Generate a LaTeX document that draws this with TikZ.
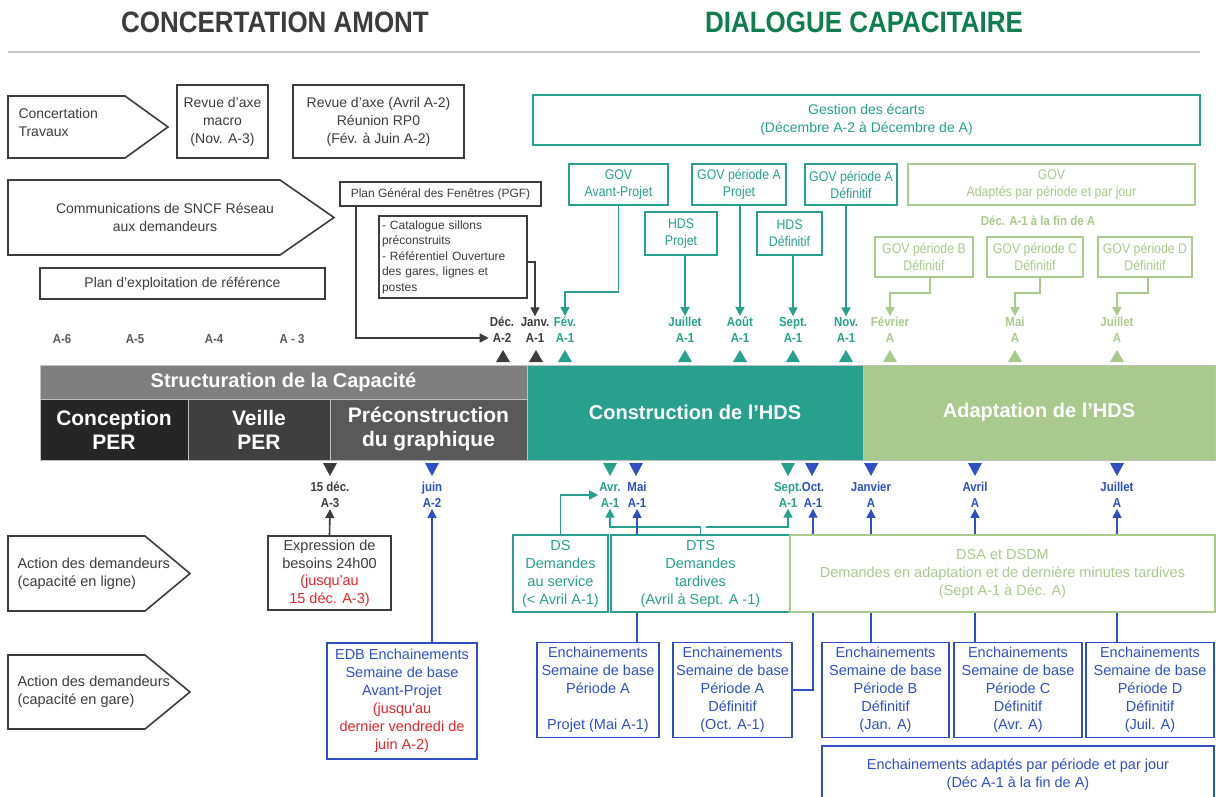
\documentclass[tikz,border=0pt]{standalone}
\usepackage{fontspec}
\setmainfont{Liberation Sans}
\newfontfamily\narrow[FakeStretch=0.88]{Liberation Sans}
\usetikzlibrary{arrows.meta}

\definecolor{inkgray}{HTML}{3C3C3C}
\definecolor{labgray}{HTML}{5A5A5A}
\definecolor{hdsteal}{HTML}{27A08D}
\definecolor{adaptgreen}{HTML}{A9C98D}
\definecolor{reqblue}{HTML}{2E50C4}
\definecolor{deadred}{HTML}{E5262B}
\definecolor{headgreen}{HTML}{0E7D50}
\definecolor{strucgray}{HTML}{7F7F7F}
\definecolor{concgray}{HTML}{262626}
\definecolor{veilgray}{HTML}{404040}
\definecolor{precgray}{HTML}{595959}
\newcommand{\rouge}[1]{\textcolor{deadred}{#1}}

\begin{document}
\begin{tikzpicture}[x=1pt,y=-1pt,>={Triangle[width=9pt,length=9pt]}]
  \tikzstyle{box}=[draw,line width=1.8pt,inner sep=2pt,align=center,font=\fontsize{14}{18}\selectfont]
  \tikzstyle{dbox}=[box,draw=inkgray,text=inkgray]
  \tikzstyle{tbox}=[box,draw=hdsteal,text=hdsteal,font=\narrow\fontsize{14}{17}\selectfont]
  \tikzstyle{gbox}=[tbox,draw=adaptgreen,text=adaptgreen]
  \tikzstyle{bbox}=[box,draw=reqblue,text=reqblue,font=\fontsize{14.5}{18}\selectfont]
  \tikzstyle{datelbl}=[align=center,inner sep=1pt,font=\narrow\bfseries\fontsize{13}{16}\selectfont]
  \tikzstyle{bartxt}=[text=white,align=center,font=\bfseries\fontsize{20}{24}\selectfont]
  \tikzstyle{dline}=[draw=inkgray,line width=1.6pt]
  \tikzstyle{tline}=[draw=hdsteal,line width=1.6pt]
  \tikzstyle{gline}=[draw=adaptgreen,line width=1.6pt]
  \tikzstyle{bline}=[draw=reqblue,line width=1.6pt]

  \useasboundingbox (0,0) rectangle (1216,796);
  \fill[white] (0,0) rectangle (1216,796);

  % titres
  \node[text=inkgray,font=\narrow\bfseries\fontsize{29.5}{32}\selectfont] (amont) at (275,22) {CONCERTATION AMONT};
  \node[text=headgreen,font=\narrow\bfseries\fontsize{29.5}{32}\selectfont] (dialogue) at (864,22) {DIALOGUE CAPACITAIRE};
  \draw[black!22,line width=1.2pt] (8,52) -- (1200,52);

  % fleches de gauche
  \draw[dline] (8,96) -- (125,96) -- (168,127) -- (125,158) -- (8,158) -- cycle;
  \node[anchor=west,align=left,text=inkgray,font=\fontsize{14}{18}\selectfont] (travaux) at (15,122) {Concertation\\Travaux};
  \draw[dline] (8,180) -- (280,180) -- (334,217.5) -- (280,255) -- (8,255) -- cycle;
  \node[align=center,text=inkgray,font=\fontsize{14}{18}\selectfont] (comm) at (165,217.5) {Communications de SNCF Réseau\\aux demandeurs};
  \draw[dline] (8,536) -- (145,536) -- (190,573.5) -- (145,611) -- (8,611) -- cycle;
  \node[anchor=west,align=left,text=inkgray,font=\fontsize{14.5}{18}\selectfont] (ligne) at (14,573.5) {Action des demandeurs\\(capacité en ligne)};
  \draw[dline] (8,655) -- (145,655) -- (190,692) -- (145,729) -- (8,729) -- cycle;
  \node[anchor=west,align=left,text=inkgray,font=\fontsize{14.5}{18}\selectfont] (gare) at (14,692) {Action des demandeurs\\(capacité en gare)};

  % concertation amont
  \node[dbox,minimum width=91,minimum height=73] (revmacro) at (222.5,121.5) {Revue d’axe\\macro\\(Nov. A-3)};
  \node[dbox,minimum width=171,minimum height=73] (revaxe) at (378.5,121.5) {Revue d’axe (Avril A-2)\\Réunion RP0\\(Fév. à Juin A-2)};
  \node[dbox,minimum width=201,minimum height=24,font=\fontsize{12}{15}\selectfont] (pgf) at (440.5,194) {Plan Général des Fenêtres (PGF)};
  \node[dbox,align=left,text width=142,inner sep=3pt,minimum height=82,font=\fontsize{12}{15.5}\selectfont] (cata) at (453,257) {- Catalogue sillons\\préconstruits\\- Référentiel Ouverture\\des gares, lignes et\\postes};
  \node[dbox,minimum width=285,minimum height=31] (per) at (182.5,283.5) {Plan d’exploitation de référence};

  % dialogue capacitaire
  \node[tbox,minimum width=667,minimum height=50,font=\fontsize{14}{18}\selectfont] (ecarts) at (866.5,120) {Gestion des écarts\\(Décembre A-2 à Décembre de A)};
  \node[tbox,minimum width=99,minimum height=41] (govap) at (618.5,184.5) {GOV\\Avant-Projet};
  \node[tbox,minimum width=94,minimum height=41] (govpa) at (739,184.5) {GOV période A\\Projet};
  \node[tbox,minimum width=92,minimum height=41] (govda) at (851,184.5) {GOV période A\\Définitif};
  \node[gbox,minimum width=287,minimum height=41] (govad) at (1051.5,184.5) {GOV\\Adaptés par période et par jour};
  \node[tbox,minimum width=72,minimum height=43] (hdsp) at (681,233.5) {HDS\\Projet};
  \node[tbox,minimum width=65,minimum height=43] (hdsd) at (789.5,233.5) {HDS\\Définitif};
  \node[datelbl,text=adaptgreen] (decfin) at (1038,221) {Déc. A-1 à la fin de A};
  \node[gbox,minimum width=98,minimum height=40] (govb) at (924,257) {GOV période B\\Définitif};
  \node[gbox,minimum width=96,minimum height=40] (govc) at (1035,257) {GOV période C\\Définitif};
  \node[gbox,minimum width=94,minimum height=40] (govd) at (1145,257) {GOV période D\\Définitif};

  % jalons du haut
  \node[datelbl,text=labgray] (a6) at (62,339) {A-6};
  \node[datelbl,text=labgray] (a5) at (135,339) {A-5};
  \node[datelbl,text=labgray] (a4) at (214,339) {A-4};
  \node[datelbl,text=labgray] (a3) at (292,339) {A - 3};
  \node[datelbl,text=inkgray] (decA2) at (502,330) {Déc.\\A-2};
  \node[datelbl,text=inkgray] (janv) at (535,330) {Janv.\\A-1};
  \node[datelbl,text=hdsteal] (fev) at (565,330) {Fév.\\A-1};
  \node[datelbl,text=hdsteal] (juil) at (685,330) {Juillet\\A-1};
  \node[datelbl,text=hdsteal] (aout) at (740,330) {Août\\A-1};
  \node[datelbl,text=hdsteal] (septh) at (793,330) {Sept.\\A-1};
  \node[datelbl,text=hdsteal] (nov) at (846,330) {Nov.\\A-1};
  \node[datelbl,text=adaptgreen] (fevA) at (890,330) {Février\\A};
  \node[datelbl,text=adaptgreen] (maiA) at (1015,330) {Mai\\A};
  \node[datelbl,text=adaptgreen] (juilA) at (1117,330) {Juillet\\A};

  \foreach \x/\c in {503/inkgray,536/inkgray,565/hdsteal,685/hdsteal,740/hdsteal,793/hdsteal,846/hdsteal,890/adaptgreen,1015/adaptgreen,1117/adaptgreen}
    \fill[\c] (\x-7,362) -- (\x+7,362) -- (\x,350) -- cycle;

  % bandeau
  \fill[strucgray] (40,365) rectangle (527,399);
  \fill[concgray] (40,399) rectangle (188,460);
  \fill[veilgray] (188,399) rectangle (330,460);
  \fill[precgray] (330,399) rectangle (527,460);
  \fill[hdsteal] (527,365) rectangle (863,460);
  \fill[adaptgreen] (863,365) rectangle (1215,460);
  \draw[black!25,line width=0.8pt] (40,365) rectangle (1215,460) (40,399) -- (527,399) (188,399) -- (188,460) (330,399) -- (330,460) (527,365) -- (527,460) (863,365) -- (863,460);
  \node[bartxt] (struc) at (283.5,382) {Structuration de la Capacité};
  \node[bartxt,font=\bfseries\fontsize{21}{24}\selectfont] (conc) at (114,429.5) {Conception\\PER};
  \node[bartxt,font=\bfseries\fontsize{21}{24}\selectfont] (veil) at (259,429.5) {Veille\\PER};
  \node[bartxt,font=\bfseries\fontsize{21}{24}\selectfont] (prec) at (428.5,429.5) {Préconstruction\\du graphique};
  \node[bartxt] (constr) at (695,412) {Construction de l’HDS};
  \node[bartxt] (adapt) at (1039,412) {Adaptation de l’HDS};

  % jalons du bas
  \foreach \x/\c in {330/inkgray,432/reqblue,610/hdsteal,636/reqblue,788/hdsteal,812/reqblue,871/reqblue,975/reqblue,1117/reqblue}
    \fill[\c] (\x-7,463) -- (\x+7,463) -- (\x,476) -- cycle;
  \node[datelbl,text=inkgray] (dec15) at (330,495) {15 déc.\\A-3};
  \node[datelbl,text=reqblue] (juin) at (432,495) {juin\\A-2};
  \node[datelbl,text=hdsteal] (avr) at (610,495) {Avr.\\A-1};
  \node[datelbl,text=reqblue] (mai) at (637,495) {Mai\\A-1};
  \node[datelbl,text=hdsteal] (sept) at (788,495) {Sept.\\A-1};
  \node[datelbl,text=reqblue] (oct) at (813,495) {Oct.\\A-1};
  \node[datelbl,text=reqblue] (janvA) at (871,495) {Janvier\\A};
  \node[datelbl,text=reqblue] (avrA) at (975,495) {Avril\\A};
  \node[datelbl,text=reqblue] (juilB) at (1117,495) {Juillet\\A};

  % demandes
  \node[dbox,minimum width=123,minimum height=74,font=\fontsize{14.5}{17.5}\selectfont] (expr) at (329.5,573) {Expression de\\besoins 24h00\\\rouge{(jusqu\textquotesingle au}\\\rouge{15 déc. A-3)}};
  \node[bbox,minimum width=150,minimum height=116] (edb) at (402,701) {EDB Enchainements\\Semaine de base\\Avant-Projet\\\rouge{(jusqu\textquotesingle au}\\\rouge{dernier vendredi de}\\\rouge{juin A-2)}};
  \node[tbox,minimum width=95,minimum height=77,font=\fontsize{14.5}{18}\selectfont] (ds) at (560.5,573.5) {DS\\Demandes\\au service\\(< Avril A-1)};
  \node[tbox,minimum width=179,minimum height=77,font=\fontsize{14.5}{18}\selectfont] (dts) at (700.5,573.5) {DTS\\Demandes\\tardives\\(Avril à Sept. A -1)};
  \node[gbox,minimum width=425,minimum height=77,font=\fontsize{14.5}{18}\selectfont] (dsa) at (1002.5,573.5) {DSA et DSDM\\Demandes en adaptation et de dernière minutes tardives\\(Sept A-1 à Déc. A)};
  \node[bbox,minimum width=122,minimum height=95] (encpa) at (598,690) {Enchainements\\Semaine de base\\Période A\\[18pt]Projet (Mai A-1)};
  \node[bbox,minimum width=119,minimum height=95] (encda) at (732.5,690) {Enchainements\\Semaine de base\\Période A\\Définitif\\(Oct. A-1)};
  \node[bbox,minimum width=127,minimum height=95] (encb) at (885.5,690) {Enchainements\\Semaine de base\\Période B\\Définitif\\(Jan. A)};
  \node[bbox,minimum width=128,minimum height=95] (encc) at (1018,690) {Enchainements\\Semaine de base\\Période C\\Définitif\\(Avr. A)};
  \node[bbox,minimum width=128,minimum height=95] (encd) at (1150,690) {Enchainements\\Semaine de base\\Période D\\Définitif\\(Juil. A)};
  \node[bbox,minimum width=392,minimum height=58] (encadapt) at (1018,775) {Enchainements adaptés par période et par jour\\(Déc A-1 à la fin de A)};

  % liaisons du haut
  \draw[dline,->] ([xshift=17pt]pgf.south west) |- ([yshift=-8pt]decA2.west);
  \draw[dline,->] ([yshift=-5pt]cata.east) -| (janv.north);
  \draw[tline,->] (govap.south) -- ++(0,86) -| (fev.north);
  \draw[tline,->] (juil.north |- hdsp.south) -- (juil.north);
  \draw[tline,->] (aout.north |- govpa.south) -- (aout.north);
  \draw[tline,->] (septh.north |- hdsd.south) -- (septh.north);
  \draw[tline,->] (nov.north |- govda.south) -- (nov.north);
  \draw[gline,->] ([xshift=6pt]govb.south) -- ++(0,15) -| (fevA.north);
  \draw[gline,->] ([xshift=5pt]govc.south) -- ++(0,15) -| (maiA.north);
  \draw[gline,->] ([xshift=3pt]govd.south) -- ++(0,15) -| (juilA.north);

  % liaisons du bas
  \draw[dline,->] (expr.north) -- (dec15.south);
  \draw[bline,->] (juin.south |- edb.north) -- (juin.south);
  \draw[tline,->] (ds.north) |- (avr.west);
  \draw[tline,->] (dts.north) -- ++(0,-7) -| (avr.south);
  \draw[tline,->] ([xshift=5pt,yshift=7pt]dts.north) -| (sept.south);
  \draw[bline] (mai.south |- encpa.north) -- (mai.south |- dts.south);
  \draw[bline,->] (mai.south |- dts.north) -- (mai.south);
  \draw[bline] (encda.east) -| (oct.south |- dsa.south);
  \draw[bline,->] (oct.south |- dsa.north) -- (oct.south);
  \draw[bline] (janvA.south |- encb.north) -- (janvA.south |- dsa.south);
  \draw[bline,->] (janvA.south |- dsa.north) -- (janvA.south);
  \draw[bline] (avrA.south |- encc.north) -- (avrA.south |- dsa.south);
  \draw[bline,->] (avrA.south |- dsa.north) -- (avrA.south);
  \draw[bline] (juilB.south |- encd.north) -- (juilB.south |- dsa.south);
  \draw[bline,->] (juilB.south |- dsa.north) -- (juilB.south);
\end{tikzpicture}
\end{document}
